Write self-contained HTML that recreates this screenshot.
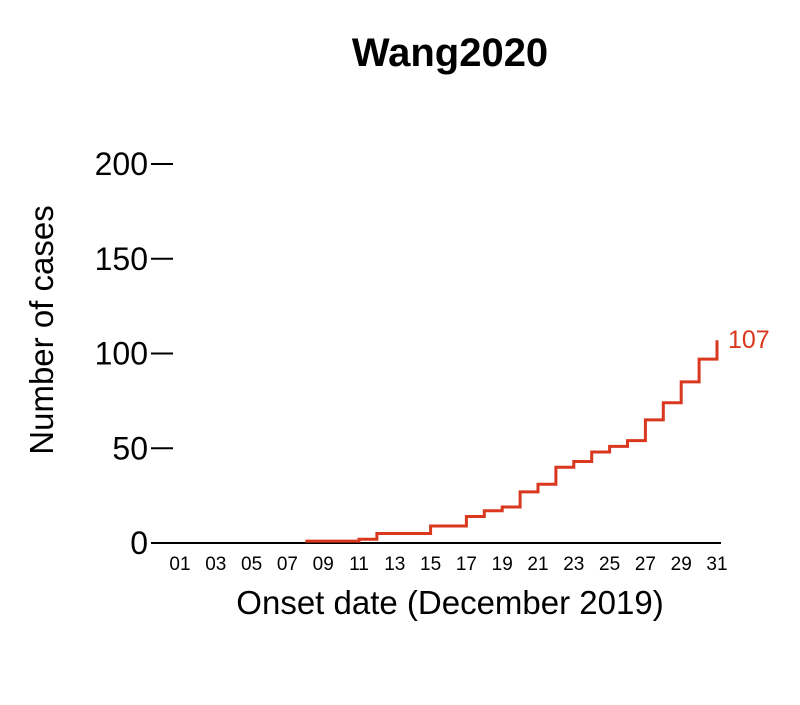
<!DOCTYPE html>
<html><head><meta charset="utf-8"><style>
body{margin:0;background:#fff;}
svg{font-family:"Liberation Sans",Arial,sans-serif;}
</style></head><body>
<svg width="800" height="700">
<text x="450" y="66" text-anchor="middle" font-size="40" font-weight="bold">Wang2020</text>
<g id="yaxis"></g>
<g id="xaxis"></g>
<line x1="152" y1="543" x2="721" y2="543" stroke="#000" stroke-width="2"/>
<path id="line" fill="none" stroke="#d9381e" stroke-width="3"/>
<text id="endlbl" font-size="25" fill="#d9381e"></text>
<text x="450" y="614" text-anchor="middle" font-size="33">Onset date (December 2019)</text>
<text transform="translate(53,330) rotate(-90)" text-anchor="middle" font-size="33">Number of cases</text>
</svg>
<script>
const days=[8,9,10,11,12,13,14,15,16,17,18,19,20,21,22,23,24,25,26,27,28,29,30,31];
const cases=[1,1,1,2,5,5,5,9,9,14,17,19,27,31,40,43,48,51,54,65,74,85,97,107];
const yTicks=[0,50,100,150,200];
const xTickDays=[1,3,5,7,9,11,13,15,17,19,21,23,25,27,29,31];
const NS="http://www.w3.org/2000/svg";
const X=d=>180+(d-1)*17.9;
const Y=v=>543-v*1.895;
const ya=document.getElementById('yaxis'),xa=document.getElementById('xaxis');
yTicks.forEach(t=>{
 const l=document.createElementNS(NS,'line');
 l.setAttribute('x1',151);l.setAttribute('x2',173);l.setAttribute('y1',Y(t));l.setAttribute('y2',Y(t));
 l.setAttribute('stroke','#000');l.setAttribute('stroke-width',2);
 
 
 ya.appendChild(l);
 const tx=document.createElementNS(NS,'text');
 tx.setAttribute('x',148);tx.setAttribute('y',Y(t)+11);tx.setAttribute('text-anchor','end');tx.setAttribute('font-size','32');
 tx.textContent=t;
 
 
 ya.appendChild(tx);
});
xTickDays.forEach(d=>{
 const tx=document.createElementNS(NS,'text');
 tx.setAttribute('x',X(d));tx.setAttribute('y',570);tx.setAttribute('text-anchor','middle');tx.setAttribute('font-size','19');
 tx.textContent=String(d).padStart(2,'0');
 
 
 xa.appendChild(tx);
});
let p='M'+X(days[0])+','+Y(cases[0]);
for(let i=1;i<days.length;i++){p+=' H'+X(days[i])+' V'+Y(cases[i]);}
document.getElementById('line').setAttribute('d',p);
const el=document.getElementById('endlbl');
el.setAttribute('x',X(days[days.length-1])+11);el.setAttribute('y',Y(cases[cases.length-1])+8);
el.textContent=cases[cases.length-1];
</script>
</body></html>
